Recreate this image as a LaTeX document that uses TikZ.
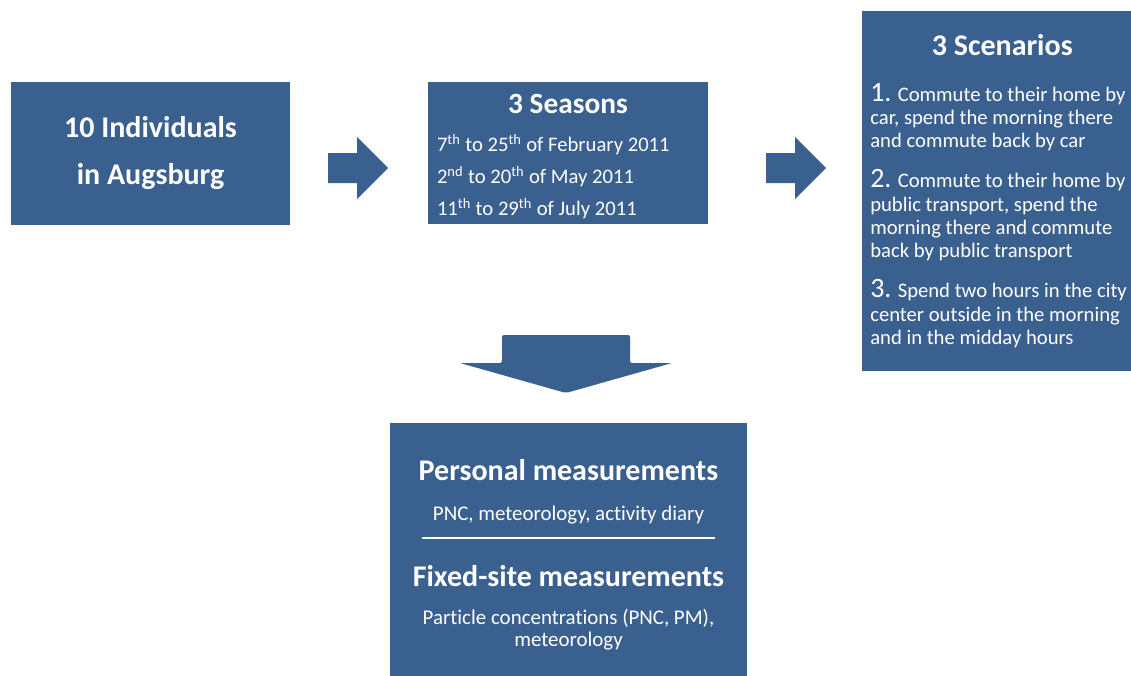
\documentclass[tikz,border=0pt]{standalone}
\usepackage{fontspec}
\setmainfont{Carlito}[Ligatures=CommonOff]
\usetikzlibrary{positioning}
\definecolor{flowblue}{HTML}{3A6090}
\newcommand{\scenno}[1]{{\fontsize{21}{17}\selectfont #1}}

\begin{document}
\begin{tikzpicture}
  [x=0.75pt,y=-0.75pt,every node/.style={text=white},
   stage/.style={rectangle,fill=flowblue,inner sep=0pt,
     execute at begin node=\setlength{\parindent}{0pt}},
   blockarrow/.style={fill=flowblue}]
  \useasboundingbox (0,0) rectangle (1131,675);

  % study design boxes
  \node[stage,minimum width=209.25pt,minimum height=107.25pt,align=center,
        font=\fontsize{22.5}{35.25}\selectfont\bfseries] (people) at (150.5,153.5)
        {10 Individuals\\in Augsburg};

  \node[stage,text height=23.25pt,text depth=83.25pt,text width=196.5pt,inner xsep=6.75pt,
        align=flush left,font=\fontsize{15.5}{24}\selectfont] (seasons) at (568,153)
        {{\centering\fontsize{22}{24}\bfseries\selectfont 3 Seasons\par}\vspace{4.75pt}
         7\textsuperscript{th} to 25\textsuperscript{th} of February 2011\\
         2\textsuperscript{nd} to 20\textsuperscript{th} of May 2011\\
         11\textsuperscript{th} to 29\textsuperscript{th} of July 2011};

  \node[stage,anchor=north west,minimum height=270pt,text width=230pt,inner xsep=6pt,
        align=flush left,font=\fontsize{15.5}{17.5}\selectfont] (scenarios) at (862,11)
        {\makebox[198pt]{\fontsize{22.5}{24}\bfseries\selectfont 3 Scenarios}\par\vspace{16.5pt}
         \scenno{1.} Commute to their home by\\
         car, spend the morning there\\
         and commute back by car\\[12.5pt]
         \scenno{2.} Commute to their home by\\
         public transport, spend the\\
         morning there and commute\\
         back by public transport\\[12.5pt]
         \scenno{3.} Spend two hours in the city\\
         center outside in the morning\\
         and in the midday hours};

  \node[stage,anchor=north,minimum height=197pt,text width=250pt,inner xsep=8.875pt,
        align=flush center] (measure) at (568.5,423)
        {{\fontsize{22.5}{24}\bfseries\selectfont Personal measurements\par}
         {\fontsize{15.7}{30}\selectfont PNC, meteorology, activity diary\par}
         {\fontsize{15.7}{14}\selectfont\rule{219.75pt}{1.5pt}\par}
         {\fontsize{22.5}{35.5}\bfseries\selectfont Fixed-site measurements\par}
         {\fontsize{15.7}{16.5}\selectfont\vspace{12pt}Particle concentrations (PNC, PM),\\
          meteorology\par}};

  % block arrows
  \foreach \ax in {328,766}
    \fill[blockarrow,shift={(\ax,0)}] (0,153) -- (29,153) -- (29,137) -- (60,168)
      -- (29,199) -- (29,183) -- (0,183) -- cycle;
  \fill[blockarrow,rounded corners=1.5pt] (502,335) -- (630,335) -- (630,363)
    -- (672,363) -- (566,393) -- (460,363) -- (502,363) -- cycle;
\end{tikzpicture}
\end{document}
